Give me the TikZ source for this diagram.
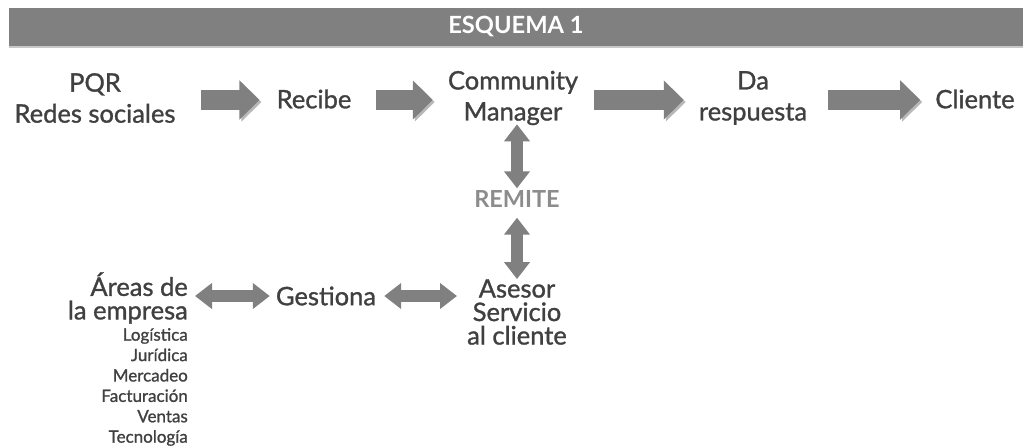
\documentclass[tikz,border=0pt]{standalone}
\usepackage{fontspec}
\setmainfont{Lato}
\newfontfamily\medfont[FakeBold=1.1]{Lato}
\usetikzlibrary{arrows.meta}
\definecolor{bargray}{HTML}{808080}
\definecolor{linegray}{HTML}{C8C8C8}
\definecolor{arrowgray}{HTML}{808080}
\definecolor{shadowgray}{HTML}{B8B8B8}
\definecolor{textgray}{HTML}{404040}
\definecolor{remitegray}{HTML}{8C8C8C}
\tikzset{
  txt/.style={inner sep=0pt, align=center, text=textgray, font=\medfont\fontsize{25.5}{31}\selectfont},
  tight/.style={font=\medfont\fontsize{25.5}{23.5}\selectfont},
  smalltxt/.style={inner sep=0pt, align=right, text=textgray, font=\medfont\fontsize{17}{20.4}\selectfont},
  titlebar/.style={fill=bargray, minimum width=1014pt, minimum height=38pt, inner sep=0pt, text=white, font=\bfseries\fontsize{23.7}{23.7}\selectfont},
  remitetxt/.style={inner sep=0pt, text=remitegray, font=\bfseries\fontsize{23.5}{23.5}\selectfont},
  gap/.style 2 args={shorten <=#1, shorten >=#2},
  bigarrow/.style={line width=20pt, draw=arrowgray, -{Triangle[length=20pt,width=38pt]},
    preaction={draw=shadowgray, transform canvas={shift={(2pt,-2pt)}}}},
  twoarrow/.style={line width=12pt, draw=arrowgray, {Triangle[length=17pt,width=25pt]}-{Triangle[length=17pt,width=25pt]}}
}
\begin{document}
\begin{tikzpicture}[x=1pt,y=-1pt]
\useasboundingbox (0,0) rectangle (1023,445);
\node[titlebar] (title) at (516,27) {ESQUEMA 1};
\draw[linegray, line width=1.5pt] ([yshift=-0.75pt]title.south west) -- ([yshift=-0.75pt]title.south east);

\node[txt] (pqr) at (95,98) {PQR\\Redes sociales};
\node[txt] (recibe) at (314,99) {Recibe};
\node[txt] (cm) at (513,98) {Community\\Manager};
\node[txt] (resp) at (753,98) {Da\\respuesta};
\node[txt] (cliente) at (975,99) {Cliente};
\node[remitetxt] (remite) at (517,199) {REMITE};
\node[txt,tight] (asesor) at (517,312) {Asesor\\Servicio\\al cliente};
\node[txt] (gestiona) at (326,296) {Gestiona};
\node[txt,tight,align=right,anchor=east] (areas) at (188,298) {Áreas de\\la empresa};
\node[smalltxt,anchor=north east] (lista) at (188,328) {Logística\\Jurídica\\Mercadeo\\Facturación\\Ventas\\Tecnología};

\draw[bigarrow,gap={25pt}{17pt}] (pqr.east |- 0,100) -- (recibe.west |- 0,100);
\draw[bigarrow,gap={24pt}{15pt}] (recibe.east |- 0,100) -- (cm.west |- 0,100);
\draw[bigarrow,gap={16pt}{15pt}] (cm.east |- 0,100) -- (resp.west |- 0,100);
\draw[bigarrow,gap={21pt}{15pt}] (resp.east |- 0,100) -- (cliente.west |- 0,100);
\draw[twoarrow,gap={-1pt}{2pt}] (cm.south -| remite.north) -- (remite.north);
\draw[twoarrow,gap={10pt}{0pt}] (remite.south) -- (asesor.north);
\draw[twoarrow,gap={7pt}{6pt}] (areas.east |- gestiona.west) -- (gestiona.west);
\draw[twoarrow,gap={8pt}{10pt}] (gestiona.east) -- (asesor.west |- gestiona.east);
\end{tikzpicture}
\end{document}
